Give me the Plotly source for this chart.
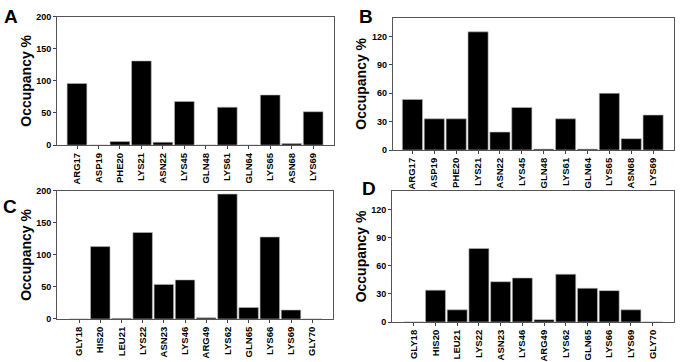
import plotly.graph_objects as go

cats_ab = ["ARG17", "ASP19", "PHE20", "LYS21", "ASN22", "LYS45", "GLN48",
           "LYS61", "GLN64", "LYS65", "ASN68", "LYS69"]
cats_cd = ["GLY18", "HIS20", "LEU21", "LYS22", "ASN23", "LYS46", "ARG49",
           "LYS62", "GLN65", "LYS66", "LYS69", "GLY70"]

vals_a = [96, 0, 5.5, 131, 4.5, 68, 0, 59, 0, 78, 2.5, 52]
vals_b = [53.5, 33, 33, 125, 19, 45, 1, 33, 1, 60, 12, 37]
vals_c = [0, 113, 1, 135, 54, 61, 2, 195, 18, 128, 14, 0]
vals_d = [0, 34, 13, 78.5, 43, 47, 2.5, 51, 36, 33.5, 13, 0]

yticks_ac = [0, 50, 100, 150, 200]
yticks_bd = [0, 30, 60, 90, 120]

FONT = "Liberation Sans, Arial, sans-serif"

fig = go.Figure()
panels = [
    (cats_ab, vals_a, "x", "y"),
    (cats_ab, vals_b, "x2", "y2"),
    (cats_cd, vals_c, "x3", "y3"),
    (cats_cd, vals_d, "x4", "y4"),
]
for cats, vals, xa, ya in panels:
    fig.add_trace(go.Bar(
        x=list(range(len(cats))), y=vals, xaxis=xa, yaxis=ya,
        marker=dict(color="black", line=dict(color="#bbbbbb", width=0.6)),
        width=0.92, showlegend=False,
    ))

def xax(domain, anchor, cats, rng):
    return dict(
        domain=domain, anchor=anchor, range=rng,
        tickmode="array", tickvals=list(range(len(cats))), ticktext=cats,
        tickangle=-90, ticks="outside", ticklen=3, tickwidth=1, tickcolor="#444",
        showline=True, linecolor="#555", linewidth=1, mirror=True,
        showgrid=False, zeroline=False,
        tickfont=dict(family=FONT, size=9.5, color="black", weight="bold"),
    )

def yax(domain, anchor, rng, ticks):
    return dict(
        domain=domain, anchor=anchor, range=rng,
        tickmode="array", tickvals=ticks,
        ticks="outside", ticklen=3, tickwidth=1, tickcolor="#444",
        showline=True, linecolor="#555", linewidth=1, mirror=True,
        showgrid=False, zeroline=False,
        tickfont=dict(family=FONT, size=9, color="black", weight="bold"),
        title=dict(text="Occupancy %", standoff=1,
                   font=dict(family=FONT, size=14, color="black", weight="bold")),
    )

fig.update_layout(
    width=683, height=362,
    margin=dict(l=0, r=0, t=0, b=0),
    paper_bgcolor="white", plot_bgcolor="white",
    xaxis=xax([0.0835, 0.489], "y", cats_ab, [-0.93, 11.97]),
    yaxis=yax([0.602, 0.967], "x", [0, 200], yticks_ac),
    xaxis2=xax([0.575, 0.987], "y2", cats_ab, [-0.9, 11.96]),
    yaxis2=yax([0.588, 0.964], "x2", [0, 140], yticks_bd),
    xaxis3=xax([0.0835, 0.4875], "y3", cats_cd, [-1.04, 11.98]),
    yaxis3=yax([0.108, 0.472], "x3", [0, 200], yticks_ac),
    xaxis4=xax([0.574, 0.987], "y4", cats_cd, [-1.0, 11.99]),
    yaxis4=yax([0.0994, 0.472], "x4", [0, 140], yticks_bd),
)

letters = [("A", 3, 0), ("B", 358, 0), ("C", 2, 195), ("D", 361, 177)]
for t, px, py in letters:
    fig.add_annotation(
        text=t, xref="paper", yref="paper",
        x=px / 683, y=1 - py / 362, xanchor="left", yanchor="top",
        showarrow=False, borderpad=0,
        font=dict(family=FONT, size=19, color="black", weight="bold"),
    )

fig.write_html("out.html", config={"displayModeBar": False},
               post_script="document.body.style.margin='0';document.body.style.overflow='hidden';")
